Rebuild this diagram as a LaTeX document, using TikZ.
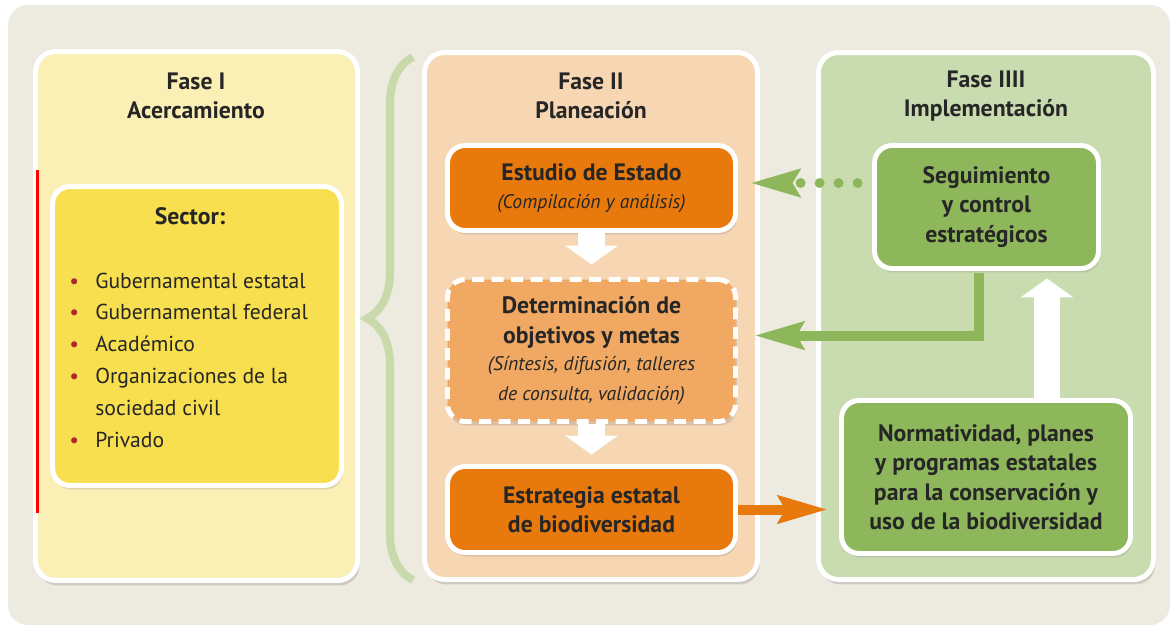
\documentclass[tikz,border=0pt]{standalone}
\usepackage{fontspec}
\setmainfont{PT Sans}
\usetikzlibrary{arrows.meta, shadows, decorations.pathreplacing}
\definecolor{fondo}{HTML}{EDEBE0}
\definecolor{amarillo}{HTML}{FAEFB4}
\definecolor{sector}{HTML}{F7DF50}
\definecolor{durazno}{HTML}{F7D6B3}
\definecolor{naranja}{HTML}{E8790C}
\definecolor{naranjac}{HTML}{F0A862}
\definecolor{verdec}{HTML}{C9DCAF}
\definecolor{verde}{HTML}{8DB75A}
\definecolor{llave}{HTML}{C8D9AC}
\definecolor{texto}{HTML}{262626}
\definecolor{rojo}{HTML}{AA2A30}
\newcommand{\bul}{\makebox[0.52cm][l]{\textcolor{rojo}{\textbullet}}}
\newcommand{\nota}{\itshape\mdseries\fontsize{11.2}{14.8}\selectfont}

\begin{document}
\begin{tikzpicture}[x=0.02cm, y=-0.02cm,
  panel/.style={draw=white, line width=2.8pt, rounded corners=0.4cm,
    drop shadow={opacity=0.3, shadow xshift=0.04cm, shadow yshift=-0.1cm}},
  caja/.style={draw=white, line width=2.8pt, rounded corners=0.35cm, text=texto,
    align=center, font=\bfseries\fontsize{13.5}{16.8}\selectfont,
    drop shadow={opacity=0.25, shadow xshift=0.03cm, shadow yshift=-0.08cm}},
  fase/.style={text=texto, align=center, font=\bfseries\fontsize{13.5}{16.3}\selectfont},
  gorda/.style={white, line width=0.54cm, -{Triangle[width=1.04cm, length=0.38cm]}},
  flecha/.style={line width=0.2cm, -{Stealth[length=0.98cm, width=0.54cm, inset=0.14cm]}}
]
\useasboundingbox (0,0) rectangle (1170,627);
\fill[fondo, rounded corners=0.4cm] (8,5) rectangle (1170,625);

\node[panel, fill=amarillo, minimum width=6.44cm, minimum height=10.58cm] (f1) at (196.5,316) {};
\node[panel, fill=durazno, minimum width=6.66cm, minimum height=10.54cm] (f2) at (591,316) {};
\node[panel, fill=verdec, minimum width=6.70cm, minimum height=10.54cm] (f3) at (986,316) {};
\draw[red, line width=1.2pt] (37.5,170) -- (37.5,513);

\node[fase] (t1) at (196,96) {Fase I\\Acercamiento};
\node[fase] (t2) at (591,96) {Fase II\\Planeación};
\node[fase] (t3) at (986,96) {Fase IIII\\Implementación};

\draw[llave, line width=0.16cm, decorate, decoration={brace, amplitude=0.92cm}] (413,580) -- (413,57);

\node[caja, fill=sector, minimum width=5.78cm, minimum height=5.98cm] (sec) at (197,336) {};
\node[fase] (sect) at (190,216) {Sector:};
\node[anchor=west, inner sep=0pt, align=left, text=texto, font=\fontsize{12.3}{18.1}\selectfont] (lista) at (69,360)
  {\bul Gubernamental estatal\\\bul Gubernamental federal\\\bul Académico\\\bul Organizaciones de la\\\hspace{0.52cm}sociedad civil\\\bul Privado};

\node[caja, fill=naranja, minimum width=5.76cm, minimum height=1.70cm] (est) at (591.5,188)
  {Estudio de Estado\\[-1pt]\nota (Compilación y análisis)};
\node[caja, fill=naranjac, dash pattern=on 0.24cm off 0.15cm, minimum width=5.76cm, minimum height=2.84cm] (det) at (591.5,350.5)
  {Determinación de\\objetivos y metas\\[-1pt]\nota (Síntesis, difusión, talleres\\\nota de consulta, validación)};
\node[caja, fill=naranja, minimum width=5.76cm, minimum height=1.72cm] (estr) at (591.5,509.5)
  {Estrategia estatal\\de biodiversidad};

\node[caja, fill=verde, minimum width=4.48cm, minimum height=2.46cm] (seg) at (986.5,207)
  {Seguimiento\\y control\\estratégicos};
\node[caja, fill=verde, minimum width=5.78cm, minimum height=3.06cm] (norm) at (986,477)
  {Normatividad, planes\\y programas estatales\\para la conservación y\\uso de la biodiversidad};

\draw[gorda, shorten >=0.25cm] (est) -- (det);
\draw[gorda, shorten >=0.19cm] (det) -- (estr);
\draw[gorda, shorten >=0.15cm] ([xshift=1.22cm]norm.north) -- ([xshift=1.22cm]norm.north |- seg.south);
\draw[flecha, naranja, shorten >=0.23cm] (estr.east) -- (estr.east -| norm.west);
\draw[flecha, verde, shorten <=0.05cm, shorten >=0.33cm] ([xshift=-0.15cm]seg.south) |- ([yshift=0.3cm]det.east);
\draw[flecha, verde, dash pattern=on 0pt off 0.38cm, line cap=round, shorten <=0.29cm, shorten >=0.25cm]
  ([yshift=0.48cm]seg.west) -- ([yshift=0.48cm]seg.west -| est.east);
\end{tikzpicture}
\end{document}
